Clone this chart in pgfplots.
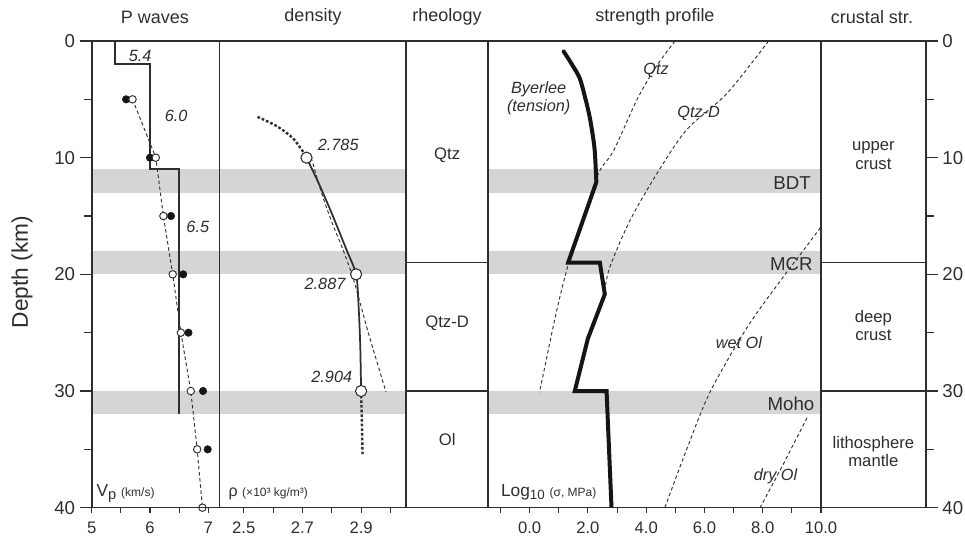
\documentclass[border=0pt]{standalone}
\usepackage{fontspec}
\setmainfont{Liberation Sans}
\usepackage{pgfplots}
\pgfplotsset{compat=1.18}
\definecolor{ink}{HTML}{2E2E2E}
\definecolor{band}{HTML}{D5D5D5}
\definecolor{heavy}{HTML}{151515}
\newcommand{\lab}{\fontsize{12.2}{14}\selectfont\itshape}
\newcommand{\rlab}{\fontsize{12.5}{14}\selectfont}
\begin{document}
\begin{tikzpicture}
\useasboundingbox (0,0) rectangle (723.75pt,402.75pt);
\pgfplotsset{
  panel/.style={
    scale only axis, height=350pt, ymin=0, ymax=40, y dir=reverse,
    anchor=center, axis line style={ink, line width=1.2pt},
    ytick=\empty, tick align=outside, major tick length=4pt, minor tick length=4pt,
    tick style={ink, line width=0.8pt},
    xtick pos=bottom,
    xticklabel style={font=\fontsize{12.5}{14}\selectfont, text=ink, yshift=-3pt},
    /pgf/number format/assume math mode=true,
    clip=false, axis on top,
  },
  thin dash/.style={ink, line width=0.7pt, dash pattern=on 2.6pt off 2pt, mark=none},
}
% ---------------- P waves
\begin{axis}[panel, at={(116.65pt,197pt)}, width=95.7pt, xmin=5, xmax=7.19,
  xtick={5,6,7}, xticklabels={5,6,7}, minor xtick={5.5,6.5}]
\fill[band] (axis cs:5,11) rectangle (axis cs:7.19,13);
\fill[band] (axis cs:5,18) rectangle (axis cs:7.19,20);
\fill[band] (axis cs:5,30) rectangle (axis cs:7.19,32);
\addplot[ink, line width=1.3pt, mark=none] coordinates {(5.4,0)(5.4,2)(6.0,2)(6.0,11)(6.5,11)(6.5,32)};
\addplot[thin dash] coordinates {(5.70,5)(6.10,10)(6.23,15)(6.39,20)(6.53,25)(6.70,30)(6.81,35)(6.90,40)};
\addplot[only marks, mark=*, mark size=2.8pt, mark options={fill=heavy, draw=heavy}] coordinates {(5.59,5)(6.0,10)(6.36,15)(6.57,20)(6.66,25)(6.91,30)(6.99,35)};
\addplot[only marks, mark=*, mark size=2.8pt, mark options={fill=white, draw=ink, line width=0.7pt}] coordinates {(5.70,5)(6.10,10)(6.23,15)(6.39,20)(6.53,25)(6.70,30)(6.81,35)(6.90,40)};
\node[text=ink, font=\lab] at (axis cs:5.83,1.3) {5.4};
\node[text=ink, font=\lab] at (axis cs:6.45,6.4) {6.0};
\node[text=ink, font=\lab] at (axis cs:6.82,15.9) {6.5};
\node[text=ink, anchor=base west, inner sep=0pt] at (axis cs:5.08,39.05) {\fontsize{13}{15}\selectfont V\raisebox{-2.5pt}{\fontsize{11}{13}\selectfont p} \fontsize{9}{11}\selectfont(km/s)};
\end{axis}
% ---------------- density
\begin{axis}[panel, at={(234.5pt,197pt)}, width=140pt, xmin=2.417, xmax=3.053,
  xtick={2.5,2.7,2.9}, xticklabels={2.5,2.7,2.9}, minor xtick={2.6,2.8,3.0}]
\fill[band] (axis cs:2.417,11) rectangle (axis cs:3.053,13);
\fill[band] (axis cs:2.417,18) rectangle (axis cs:3.053,20);
\fill[band] (axis cs:2.417,30) rectangle (axis cs:3.053,32);
\addplot[ink, line width=1.8pt, dash pattern=on 2pt off 1.5pt, smooth, mark=none] coordinates {(2.547,6.5)(2.613,7.3)(2.67,8.4)(2.714,9.94)};
\addplot[thin dash, smooth] coordinates {(2.73,10)(2.765,13)(2.80,15.5)(2.84,18)(2.875,20.5)(2.92,24.6)(2.954,27.5)(2.985,30.1)};
\addplot[ink, line width=1.3pt, smooth, mark=none] coordinates {(2.714,10)(2.752,12)(2.787,14)(2.82,16)(2.852,18)(2.883,20)(2.891,22.5)(2.897,26)(2.90,30)};
\addplot[ink, line width=1.8pt, dash pattern=on 2pt off 1.5pt, mark=none] coordinates {(2.90,30)(2.903,33)(2.905,35.4)};
\addplot[only marks, mark=*, mark size=4.2pt, mark options={fill=white, draw=ink, line width=0.8pt}] coordinates {(2.714,10)(2.883,20)(2.90,30)};
\node[text=ink, font=\lab] at (axis cs:2.822,8.9) {2.785};
\node[text=ink, font=\lab] at (axis cs:2.777,20.85) {2.887};
\node[text=ink, font=\lab] at (axis cs:2.80,28.8) {2.904};
\node[text=ink, anchor=base west, inner sep=0pt] at (axis cs:2.448,39.05) {\fontsize{12}{14}\selectfont ρ \fontsize{9}{11}\selectfont(×10³ kg/m³)};
\end{axis}
% ---------------- rheology
\begin{axis}[panel, at={(335.35pt,197pt)}, width=61.7pt, xmin=0, xmax=1, xtick=\empty]
\addplot[ink, line width=1pt, mark=none] coordinates {(0,19)(1,19)};
\addplot[ink, line width=1pt, mark=none] coordinates {(0,30)(1,30)};
\node[text=ink, font=\rlab] at (axis cs:0.5,9.8) {Qtz};
\node[text=ink, font=\rlab] at (axis cs:0.5,24.2) {Qtz-D};
\node[text=ink, font=\rlab] at (axis cs:0.5,34.2) {Ol};
\end{axis}
% ---------------- strength profile
\begin{axis}[panel, at={(490.975pt,197pt)}, width=249.55pt, xmin=-1.42, xmax=10,
  xtick={0,2,4,6,8,10}, xticklabels={0.0,2.0,4.0,6.0,8.0,10.0}, minor xtick={-1,1,3,5,7,9}]
\fill[band] (axis cs:-1.42,11) rectangle (axis cs:10,13);
\fill[band] (axis cs:-1.42,18) rectangle (axis cs:10,20);
\fill[band] (axis cs:-1.42,30) rectangle (axis cs:10,32);
\addplot[thin dash, smooth] coordinates {(4.99,0)(4.34,2.2)(3.69,5.0)(2.88,9.4)(2.35,11.4)(1.72,16.0)(1.32,19.2)(0.92,23.2)(0.34,30.1)};
\addplot[thin dash, smooth] coordinates {(8.2,0)(6.77,4.5)(5.39,7.6)(4.36,11.4)(3.44,15.4)(2.75,19.4)(2.57,21.5)};
\addplot[thin dash, smooth] coordinates {(9.98,16.0)(9.29,18.3)(8.71,20.2)(7.45,24.6)(6.19,30.1)(5.39,35.0)(4.64,40)};
\addplot[thin dash] coordinates {(9.52,32.3)(8.7,36.3)(7.91,40)};
\addplot[heavy, line width=3pt, smooth, mark=none, line cap=round] coordinates {(1.17,0.9)(1.45,2.0)(1.72,3.2)(1.92,5)(2.06,6.5)(2.18,8.3)(2.24,9.6)(2.29,12.1)};
\addplot[heavy, line width=3pt, mark=none, line join=miter] coordinates {(2.29,12.1)(1.32,19.0)(2.41,19.0)(2.58,21.7)(2.0,25.5)(1.55,30.0)(2.64,30.0)(2.81,40)};
\node[text=ink, font=\lab, align=center, inner sep=0pt] at (axis cs:0.31,4.9) {Byerlee\\(tension)};
\node[text=ink, font=\lab] at (axis cs:4.34,2.5) {Qtz};
\node[text=ink, font=\lab] at (axis cs:5.8,6.2) {Qtz-D};
\node[text=ink, font=\lab] at (axis cs:7.18,25.9) {wet Ol};
\node[text=ink, font=\lab] at (axis cs:8.44,37.3) {dry Ol};
\node[text=ink, font=\fontsize{14}{16}\selectfont, anchor=east, inner sep=0pt] at (axis cs:9.66,12.15) {BDT};
\node[text=ink, font=\fontsize{14}{16}\selectfont, anchor=east, inner sep=0pt] at (axis cs:9.72,19.1) {MCR};
\node[text=ink, font=\fontsize{14}{16}\selectfont, anchor=east, inner sep=0pt] at (axis cs:9.78,31.1) {Moho};
\node[text=ink, anchor=base west, inner sep=0pt] at (axis cs:-0.99,39.05) {\fontsize{13}{15}\selectfont Log\raisebox{-2.5pt}{\fontsize{10}{12}\selectfont 10} \fontsize{9}{11}\selectfont(σ, MPa)};
\end{axis}
% ---------------- crustal structure
\begin{axis}[panel, at={(655.025pt,197pt)}, width=78.55pt, xmin=0, xmax=1, xtick=\empty]
\addplot[ink, line width=1pt, mark=none] coordinates {(0,19)(1,19)};
\addplot[ink, line width=1pt, mark=none] coordinates {(0,30)(1,30)};
\node[text=ink, font=\rlab, align=center] at (axis cs:0.5,9.8) {upper\\crust};
\node[text=ink, font=\rlab, align=center] at (axis cs:0.5,24.4) {deep\\crust};
\node[text=ink, font=\rlab, align=center] at (axis cs:0.5,35.2) {lithosphere\\mantle};
\end{axis}
% ---------------- depth axes (left and right)
\begin{axis}[scale only axis, anchor=center, at={(381.55pt,197pt)}, width=625.5pt, height=350pt,
  ymin=0, ymax=40, y dir=reverse, xmin=0, xmax=1, xtick=\empty,
  ytick={0,10,20,30,40}, minor ytick={5,15,25,35}, ytick pos=left,
  tick align=outside, major tick length=9pt, minor tick length=6pt,
  tick style={ink, line width=0.8pt}, axis line style={ink, line width=1.2pt},
  yticklabel style={font=\fontsize{14}{16}\selectfont, text=ink},
  /pgf/number format/assume math mode=true]
\end{axis}
\begin{axis}[scale only axis, anchor=center, at={(381.55pt,197pt)}, width=625.5pt, height=350pt,
  ymin=0, ymax=40, y dir=reverse, xmin=0, xmax=1, xtick=\empty,
  ytick={0,10,20,30,40}, minor ytick={5,15,25,35}, ytick pos=right, yticklabel pos=right,
  tick align=outside, major tick length=9pt, minor tick length=6pt,
  tick style={ink, line width=0.8pt}, axis line style={ink, line width=1.2pt},
  yticklabel style={font=\fontsize{14}{16}\selectfont, text=ink},
  /pgf/number format/assume math mode=true]
\end{axis}
% ---------------- titles
\begin{scope}[every node/.style={text=ink, font=\fontsize{13.5}{15}\selectfont}]
\node at (116.25pt,390pt) {P waves};
\node at (234.75pt,390pt) {density};
\node at (335.25pt,390pt) {rheology};
\node at (491.25pt,390pt) {strength profile};
\node at (654pt,390pt) {crustal str.};
\end{scope}
\node[rotate=90, text=ink, font=\fontsize{17}{19}\selectfont] at (16.5pt,198.75pt) {Depth (km)};
\end{tikzpicture}
\end{document}
